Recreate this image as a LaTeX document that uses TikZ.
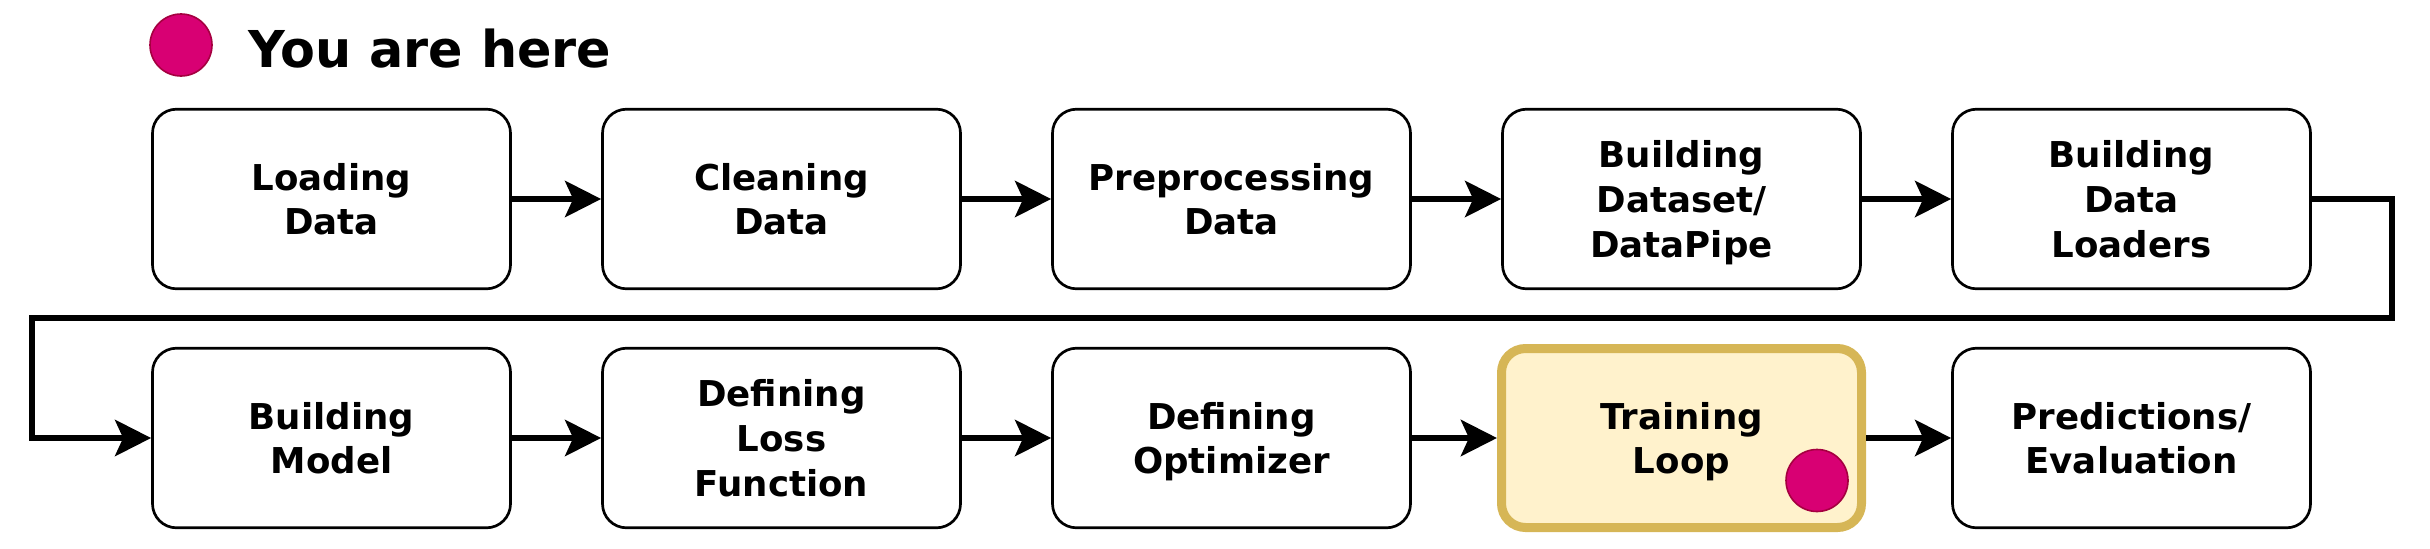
\documentclass[tikz,border=0pt]{standalone}
\usepackage{fontspec}
\setmainfont{DejaVu Sans}
\usetikzlibrary{arrows.meta}
\definecolor{dotpink}{HTML}{D80073}
\definecolor{dotedge}{HTML}{A50040}
\definecolor{hereFill}{HTML}{FFF2CC}
\definecolor{hereEdge}{HTML}{D6B656}
\begin{document}
\begin{tikzpicture}[x=0.25pt, y=0.25pt,
  every node/.style={font=\bfseries\fontsize{8.9}{11.2}\selectfont},
  stepbox/.style={draw, fill=white, rounded corners=6pt, line width=0.67pt,
    minimum width=89.5pt, minimum height=44.9pt, align=center, inner sep=0pt,
    text depth=-2.3pt},
  herebox/.style={stepbox, fill=hereFill, draw=hereEdge, line width=2.25pt,
    minimum width=90pt, minimum height=44.75pt},
  dot/.style={circle, fill=dotpink, draw=dotedge, line width=0.4pt,
    minimum size=15.5pt, inner sep=0pt},
  flow/.style={-{Stealth[length=9pt, width=9pt, inset=2pt]}, line width=1.6pt}]
  \useasboundingbox (0,0) rectangle (2430,548);

  % legend
  \node[dot] (legend) at (181,503) {};
  \node[anchor=base west, inner sep=0pt, font=\bfseries\fontsize{12.7}{15}\selectfont] (here) at (248,480.3) {You are here};

  % first row
  \node[stepbox] (load)    at (331.5,349)  {Loading\\Data};
  \node[stepbox] (clean)   at (781.5,349)  {Cleaning\\Data};
  \node[stepbox] (prep)    at (1231.5,349) {Preprocessing\\Data};
  \node[stepbox] (dset)    at (1681.5,349) {Building\\Dataset/\\DataPipe};
  \node[stepbox] (loaders) at (2131.5,349) {Building\\Data\\Loaders};

  % second row
  \node[stepbox] (model) at (331.5,110)  {Building\\Model};
  \node[stepbox] (loss)  at (781.5,110)  {Defining\\Loss\\Function};
  \node[stepbox] (optim) at (1231.5,110) {Defining\\Optimizer};
  \node[herebox] (train) at (1681.5,110) {Training\\Loop};
  \node[stepbox] (pred)  at (2131.5,110) {Predictions/\\Evaluation};
  \node[dot] (marker) at (1817,67.5) {};

  \draw[flow] (load) -- (clean);
  \draw[flow] (clean) -- (prep);
  \draw[flow] (prep) -- (dset);
  \draw[flow] (dset) -- (loaders);
  \draw[flow] (loaders.east) -- ++(80,0) |- (32,230) |- (model.west);
  \draw[flow] (model) -- (loss);
  \draw[flow] (loss) -- (optim);
  \draw[flow] (optim) -- (train);
  \draw[flow] (train) -- (pred);
\end{tikzpicture}
\end{document}
